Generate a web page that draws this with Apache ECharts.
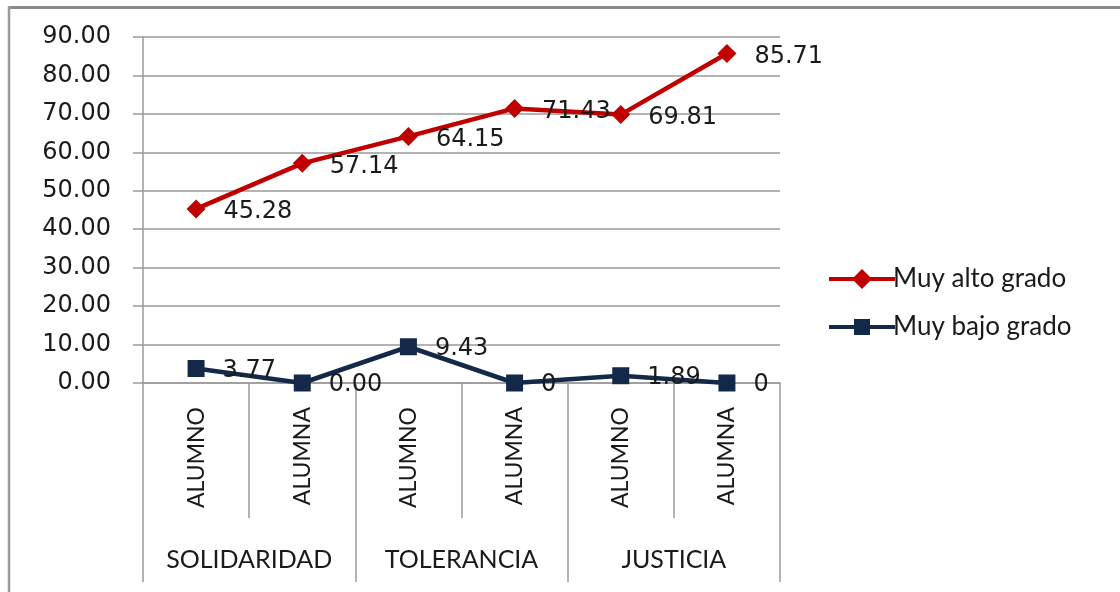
<!DOCTYPE html>
<html>
<head>
<meta charset="utf-8">
<script src="https://cdn.jsdelivr.net/npm/echarts@6/dist/echarts.min.js"></script>
<style>
html,body{margin:0;padding:0;background:#fff;}
#chart{width:1120px;height:592px;}
</style>
</head>
<body>
<div id="chart"></div>
<script>
var subCategories = ["ALUMNO", "ALUMNA", "ALUMNO", "ALUMNA", "ALUMNO", "ALUMNA"];
var groupCategories = ["SOLIDARIDAD", "TOLERANCIA", "JUSTICIA"];
var seriesNames = ["Muy alto grado", "Muy bajo grado"];
var muyAlto = [45.28, 57.14, 64.15, 71.43, 69.81, 85.71];
var muyAltoLabels = ["45.28", "57.14", "64.15", "71.43", "69.81", "85.71"];
var muyBajo = [3.77, 0.00, 9.43, 0, 1.89, 0];
var muyBajoLabels = ["3.77", "0.00", "9.43", "0", "1.89", "0"];
var yTicks = {min: 0, max: 90, interval: 10};

var gridColor = '#9a9a9a';
var numFont = 'DejaVu Sans';
var txtFont = 'Lato';
var redColor = '#C00000';
var navyColor = '#14294A';

// legend icons: thick line with marker (shape only, scaled by legend item size)
var diamondIcon = 'path://M0,8 L25,8 L33,0 L41,8 L66,8 L66,12 L41,12 L33,20 L25,12 L0,12 Z';
var squareIcon = 'path://M0,8 L25,8 L25,2 L41,2 L41,8 L66,8 L66,12 L41,12 L41,18 L25,18 L25,12 L0,12 Z';

var chart = echarts.init(document.getElementById('chart'), null, {renderer: 'canvas'});
chart.setOption({
  animation: false,
  backgroundColor: '#ffffff',
  grid: {left: 143, right: 340, top: 37, bottom: 209, containLabel: false},
  legend: {
    orient: 'vertical',
    left: 824,
    top: 261,
    itemWidth: 66,
    itemHeight: 20,
    itemGap: 22,
    textStyle: {fontFamily: txtFont, fontSize: 26, color: '#1a1a1a', padding: [0, 0, 0, -7]},
    data: [
      {name: seriesNames[0], icon: diamondIcon},
      {name: seriesNames[1], icon: squareIcon}
    ]
  },
  xAxis: [
    {
      type: 'category',
      data: subCategories,
      boundaryGap: true,
      position: 'bottom',
      axisLine: {show: true, lineStyle: {color: gridColor, width: 1.5}},
      axisTick: {show: true, alignWithLabel: false, length: 135, lineStyle: {color: gridColor, width: 1.5}},
      axisLabel: {rotate: 90, interval: 0, margin: 24, fontFamily: txtFont, fontSize: 23, color: '#1a1a1a'},
      splitLine: {show: false}
    },
    {
      type: 'category',
      data: groupCategories,
      boundaryGap: true,
      position: 'bottom',
      axisLine: {show: false},
      axisTick: {show: true, interval: 0, alignWithLabel: false, length: 199, lineStyle: {color: gridColor, width: 1.5}},
      axisLabel: {interval: 0, hideOverlap: false, margin: 164, fontFamily: txtFont, fontSize: 25, color: '#1a1a1a'},
      splitLine: {show: false}
    }
  ],
  yAxis: {
    type: 'value',
    min: yTicks.min,
    max: yTicks.max,
    interval: yTicks.interval,
    axisLine: {show: true, lineStyle: {color: gridColor, width: 1.5}},
    axisTick: {show: true, length: 10, lineStyle: {color: gridColor, width: 1.5}},
    splitLine: {show: true, lineStyle: {color: gridColor, width: 1.5}},
    axisLabel: {
      margin: 32,
      fontFamily: numFont,
      fontSize: 24,
      color: '#1a1a1a',
      formatter: function (v) { return v.toFixed(2); }
    }
  },
  series: [
    {
      name: seriesNames[0],
      type: 'line',
      xAxisIndex: 0,
      data: muyAlto,
      symbol: 'diamond',
      symbolSize: 19,
      lineStyle: {color: redColor, width: 4.5},
      itemStyle: {color: redColor},
      label: {
        show: true,
        position: 'right',
        distance: 18,
        offset: [0, 3],
        fontFamily: numFont,
        fontSize: 24,
        color: '#1a1a1a',
        formatter: function (p) { return muyAltoLabels[p.dataIndex]; }
      },
      z: 3
    },
    {
      name: seriesNames[1],
      type: 'line',
      xAxisIndex: 0,
      data: muyBajo,
      symbol: 'rect',
      symbolSize: 17,
      lineStyle: {color: navyColor, width: 4.5},
      itemStyle: {color: navyColor},
      label: {
        show: true,
        position: 'right',
        distance: 18,
        offset: [0, 2],
        fontFamily: numFont,
        fontSize: 24,
        color: '#1a1a1a',
        formatter: function (p) { return muyBajoLabels[p.dataIndex]; }
      },
      z: 4
    }
  ],
  graphic: [
    {type: 'line', shape: {x1: 8, y1: 7.5, x2: 1120, y2: 7.5}, style: {stroke: '#8a8a8a', lineWidth: 3}, silent: true},
    {type: 'line', shape: {x1: 9, y1: 6, x2: 9, y2: 592}, style: {stroke: '#9a9a9a', lineWidth: 2.5}, silent: true}
  ]
});
</script>
</body>
</html>
